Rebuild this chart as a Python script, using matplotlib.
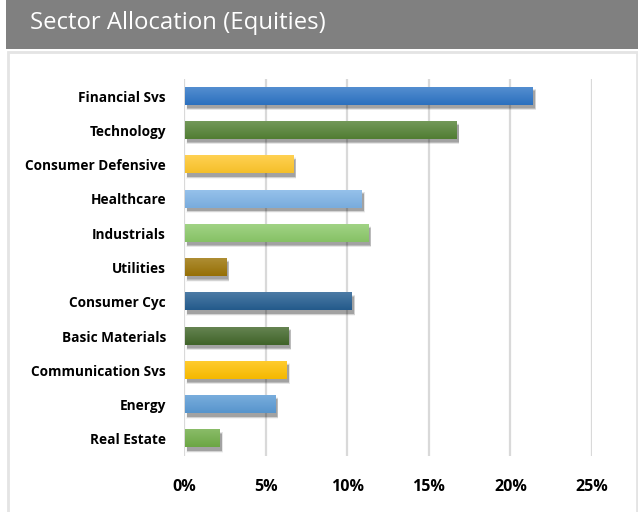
""" Sector allocation bar chart (equities) """

import matplotlib
matplotlib.use('Agg')
import matplotlib.pyplot as plt
from matplotlib.patches import Rectangle
from matplotlib.colors import to_rgb
import numpy as np

# data
sectors = ['Financial Svs', 'Technology', 'Consumer Defensive', 'Healthcare',
           'Industrials', 'Utilities', 'Consumer Cyc', 'Basic Materials',
           'Communication Svs', 'Energy', 'Real Estate']
weights = [21.4, 16.7, 6.7, 10.9, 11.3, 2.6, 10.3, 6.4, 6.3, 5.6, 2.2]
bar_colors = ['#2E75C6', '#548235', '#FFC72C', '#7EB3E6', '#8CC96A', '#9C7406',
              '#255E91', '#43682B', '#FFC000', '#5B9BD5', '#70AD47']
xticks = [0, 5, 10, 15, 20, 25]
title = 'Sector Allocation (Equities)'

W, H = 638, 512
fig = plt.figure(figsize=(W / 100, H / 100), dpi=100)
fig.patch.set_facecolor('white')

# title banner and the light frame below it (kept behind the axes)
fig.patches.append(Rectangle((6 / W, 1 - 49 / H), 1 - 6 / W, 49 / H,
                             transform=fig.transFigure, facecolor='#808080',
                             edgecolor='none', zorder=-2))
fig.patches.append(Rectangle((7.5 / W, -0.01), 1 - 9 / W, 1 - 52 / H + 0.01,
                             transform=fig.transFigure, facecolor='white',
                             edgecolor='#e4e4e4', linewidth=2, zorder=-2))
fig.text(30 / W, 1 - 23 / H, title, color='white', fontsize=17.2,
         family='Open Sans', va='center', ha='left')

ax = fig.add_axes([184 / W, (512 - 456) / H, (592 - 184) / W, (456 - 79) / H])
ax.set_facecolor('none')
ax.set_zorder(1)

for x in xticks:
    ax.axvline(x, color='#d9d9d9', linewidth=1.6, zorder=1)

h = 0.5
x0 = 0.08
ypos = np.arange(len(sectors))
for i, (val, col) in enumerate(zip(weights, bar_colors)):
    # soft drop shadow
    for k, a in enumerate([0.04, 0.06, 0.08, 0.11, 0.13]):
        grow = (4 - k) * 0.03
        ax.add_patch(Rectangle((x0 + 0.12 - grow / 2, i - h / 2 + 0.1 - grow / 2),
                               val - x0 + grow, h + grow,
                               facecolor='black', alpha=a, edgecolor='none',
                               zorder=2))
    # vertical gradient fill
    base = np.array(to_rgb(col))
    top = base + (1 - base) * 0.18
    bot = base * 0.96
    t = np.linspace(0, 1, 32)[:, None]
    grad = (top[None, :] * (1 - t) + bot[None, :] * t)[:, None, :]
    ax.imshow(grad, extent=(x0, val, i + h / 2, i - h / 2), aspect='auto',
              interpolation='bilinear', zorder=3)

ax.set_xlim(0, 25)
ax.set_ylim(len(sectors) - 0.5, -0.5)
ax.set_yticks(ypos)
ax.set_yticklabels(sectors)
ax.set_xticks(xticks)
ax.set_xticklabels(['{}%'.format(x) for x in xticks])
for lab in ax.get_yticklabels():
    lab.set_fontfamily('Open Sans')
    lab.set_fontweight('bold')
    lab.set_fontsize(9.8)
for lab in ax.get_xticklabels():
    lab.set_fontfamily('Open Sans')
    lab.set_fontweight('bold')
    lab.set_fontsize(11.5)
ax.tick_params(axis='y', length=0, pad=13)
ax.tick_params(axis='x', length=0, pad=16.5)
for s in ax.spines.values():
    s.set_visible(False)

plt.savefig('out.png', dpi=100)
